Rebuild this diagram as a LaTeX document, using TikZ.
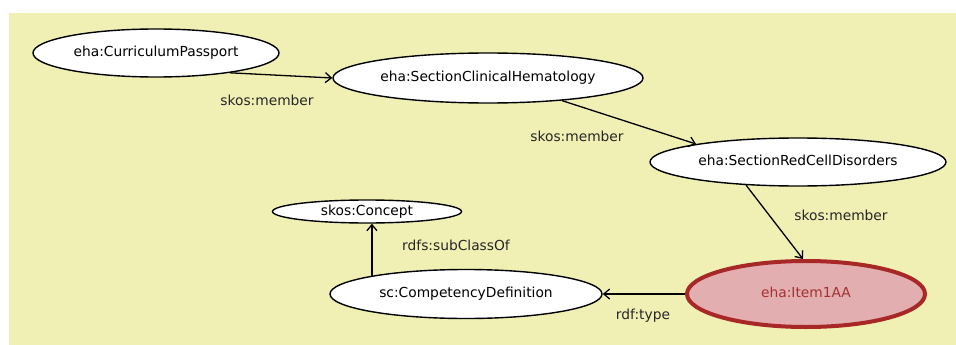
\documentclass[tikz,border=0pt]{standalone}
\usepackage{fontspec}
\setmainfont{DejaVu Sans}
\usetikzlibrary{shapes.geometric,arrows.meta}
\definecolor{bgyellow}{RGB}{240,240,180}
\definecolor{itemfill}{RGB}{226,174,176}
\definecolor{itemborder}{RGB}{168,40,40}
\definecolor{itemtext}{RGB}{165,50,50}
\tikzset{
  cls/.style={ellipse, draw=black, line width=1.4pt, fill=white, inner sep=0pt,
    font=\fontsize{13.8}{16}\selectfont, text height=10pt, text depth=2.7pt},
  focus/.style={cls, draw=itemborder, fill=itemfill, line width=4pt, text=itemtext},
  lbl/.style={font=\fontsize{13.8}{16}\selectfont, inner sep=0pt, text height=10pt, text depth=2.7pt, text=black!85},
  conn/.style={line width=1.3pt, -{Straight Barb[length=6pt,width=10pt,line width=1.3pt]}}
}
\begin{document}
\begin{tikzpicture}[x=1pt,y=-1pt]
\useasboundingbox (0,0) rectangle (956,345);
\fill[white] (0,0) rectangle (956,345);
\fill[bgyellow] (9,13) rectangle (956,345);

\node[cls, minimum width=246pt, minimum height=48pt] (cp) at (156,53) {eha:CurriculumPassport};
\node[cls, minimum width=310pt, minimum height=50pt] (sch) at (488,78) {eha:SectionClinicalHematology};
\node[cls, minimum width=296pt, minimum height=48pt] (srcd) at (798,162) {eha:SectionRedCellDisorders};
\node[cls, minimum width=189pt, minimum height=23pt] (con) at (367,211.5) {skos:Concept};
\node[cls, minimum width=272pt, minimum height=49pt] (cd) at (466,294) {sc:CompetencyDefinition};
\node[focus, minimum width=238pt, minimum height=66pt] (item) at (806,294) {eha:Item1AA};

\draw[conn] (cp.-15) -- (sch.west);
\draw[conn] (sch.-17) -- (srcd.170);
\draw[conn] (srcd.204) -- (item.95);
\draw[conn] (cd.169) -- (cd.169 |- con.south);
\draw[conn] (item.west) -- (item.west -| cd.east);

\node[lbl] (l1) at (267,102) {skos:member};
\node[lbl] (l2) at (577,138) {skos:member};
\node[lbl] (l3) at (841,217) {skos:member};
\node[lbl] (l4) at (456,247) {rdfs:subClassOf};
\node[lbl] (l5) at (643,316) {rdf:type};
\end{tikzpicture}
\end{document}
